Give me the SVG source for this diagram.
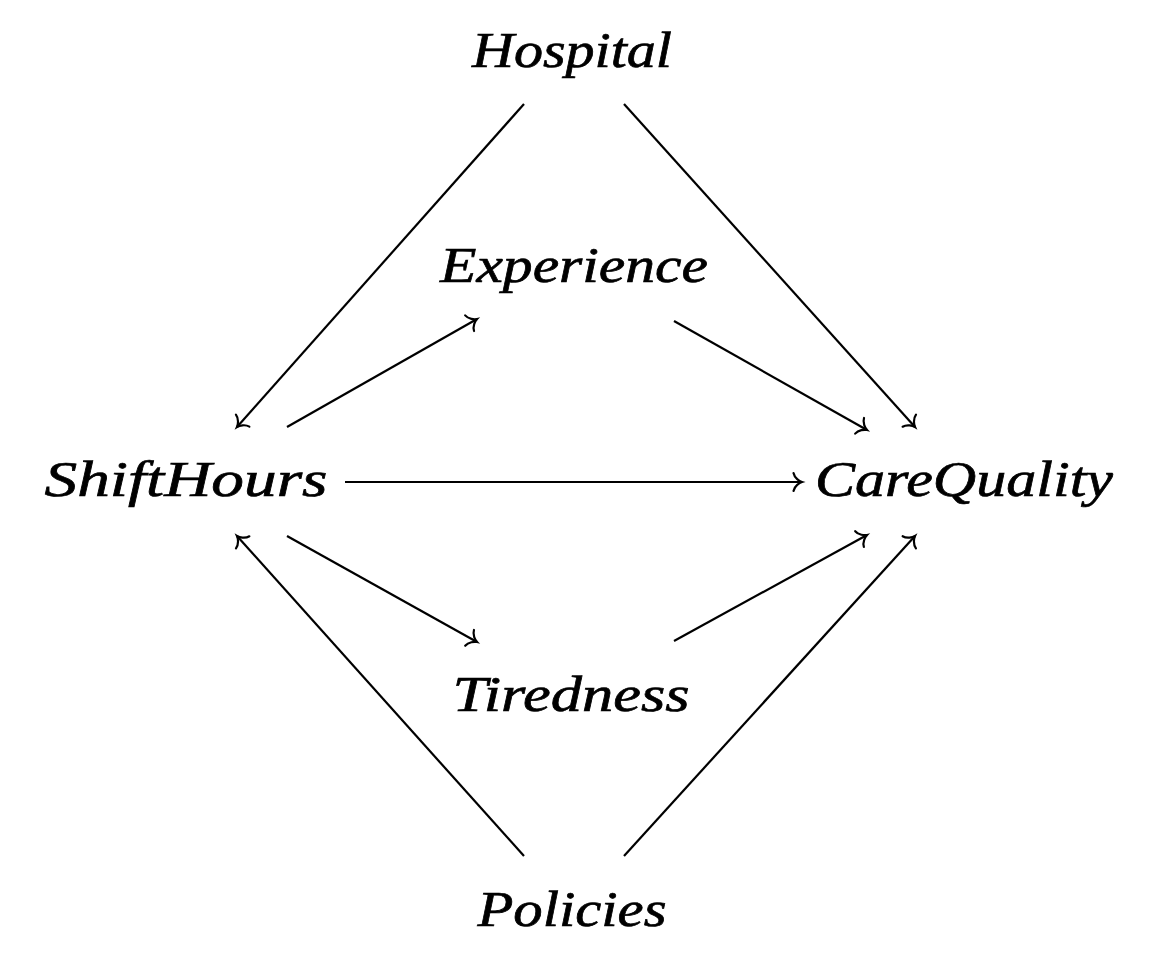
<svg xmlns="http://www.w3.org/2000/svg" width="1160" height="964" viewBox="0 0 1160 964">
<defs>
<style>
.lbl{font-family:"Liberation Serif","DejaVu Serif",serif;font-style:italic;font-size:51px;fill:#000;stroke:#000;stroke-width:0.7;text-anchor:middle}
.e{stroke:#000;stroke-width:2.2;fill:none;marker-end:url(#to)}
</style>
<marker id="to" markerUnits="userSpaceOnUse" markerWidth="24" markerHeight="24" viewBox="-12 -12 24 24" refX="0" refY="0" orient="auto">
<path d="M -8.5,-9 C -7.5,-4 -2.5,-0.8 0,0 C -2.5,0.8 -7.5,4 -8.5,9" fill="none" stroke="#000" stroke-width="2.2" stroke-linecap="round"/>
</marker>
</defs>
<rect width="1160" height="964" fill="#fff"/>
<g id="connectors">
<line class="e" x1="524" y1="104" x2="237" y2="427"/>
<line class="e" x1="624" y1="104" x2="915" y2="427"/>
<line class="e" x1="287" y1="427" x2="477" y2="319"/>
<line class="e" x1="674" y1="321" x2="867" y2="430"/>
<line class="e" x1="345" y1="482" x2="802" y2="482"/>
<line class="e" x1="287" y1="536" x2="477" y2="642"/>
<line class="e" x1="674" y1="641" x2="867" y2="535"/>
<line class="e" x1="524" y1="856" x2="237" y2="536"/>
<line class="e" x1="624" y1="856" x2="915" y2="536"/>
</g>
<g id="hospital"><text class="lbl" x="572" y="67" textLength="200" lengthAdjust="spacingAndGlyphs">Hospital</text></g>
<g id="experience"><text class="lbl" x="574" y="282" textLength="268" lengthAdjust="spacingAndGlyphs">Experience</text></g>
<g id="shifthours"><text class="lbl" x="186" y="496" textLength="283" lengthAdjust="spacingAndGlyphs">ShiftHours</text></g>
<g id="carequality"><text class="lbl" x="964" y="496" textLength="298" lengthAdjust="spacingAndGlyphs">CareQuality</text></g>
<g id="tiredness"><text class="lbl" x="571" y="711" textLength="237" lengthAdjust="spacingAndGlyphs">Tiredness</text></g>
<g id="policies"><text class="lbl" x="572" y="926" textLength="189" lengthAdjust="spacingAndGlyphs">Policies</text></g>
</svg>
